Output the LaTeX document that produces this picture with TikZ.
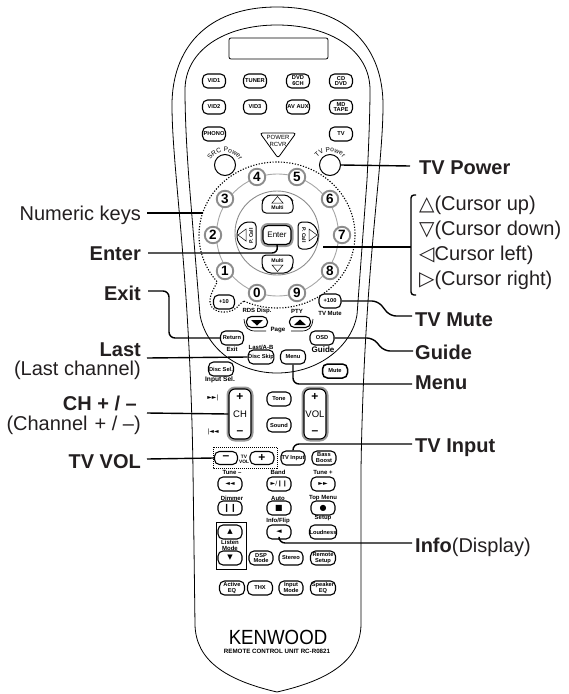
\documentclass[tikz,border=0pt]{standalone}
\usepackage{fontspec}
\usetikzlibrary{calc,decorations.text}
\setmainfont{Liberation Sans}
\newfontfamily\djv{DejaVu Sans}
\definecolor{ink}{HTML}{231F20}
\tikzset{
 btn/.style={draw,line width=1.1pt,rounded corners=5pt,minimum width=#1,minimum height=14pt,inner sep=0pt,align=center,font=\fontsize{5.7}{5.9}\selectfont\bfseries},
 btn/.default=23pt,
 tiny/.style={inner sep=0pt,align=center,font=\fontsize{6}{6.3}\selectfont\bfseries},
 keynum/.style={circle,draw=black!45,line width=1.9pt,fill=white,minimum size=16.5pt,inner sep=0pt,font=\fontsize{13.5}{13.5}\selectfont\bfseries},
 lab/.style={inner sep=0pt,text=ink,text height=14.3pt,text depth=0pt,font=\fontsize{20}{21}\selectfont},
 blab/.style={lab,font=\fontsize{20}{21}\selectfont\bfseries},
 lead/.style={line width=1.4pt,rounded corners=6pt},
 body/.style={line width=.8pt},
 sym/.style={inner sep=0pt,font=\fontsize{6}{6}\djv},
 arctext/.style={decorate,decoration={text along path,text align=center,text={|\fontsize{6.6}{6.6}\selectfont|#1}}},
}
\newcommand{\btnat}[5][23pt]{\node[btn=#1] (#2) at (#3,#4) {#5};}
\begin{document}
\begin{tikzpicture}[x=1pt,y=-1pt]
\useasboundingbox (0,0) rectangle (569,694);
% body
\draw[body] (277,7) .. controls (205,7) and (172,50) .. (172,105) .. controls (172,170) and (190,270) .. (193,470) -- (195,625) .. controls (196,660) and (225,680) .. (277,692) .. controls (330,680) and (360,660) .. (361,625) -- (361,470) .. controls (364,270) and (383,170) .. (383,105) .. controls (383,50) and (350,7) .. (277,7) -- cycle;
\draw[body] (189,180) .. controls (186,140) and (185,110) .. (185,90) .. controls (185,50) and (225,25) .. (277,25) .. controls (330,25) and (370,50) .. (370,90) .. controls (370,110) and (369,140) .. (367,180) -- (357,315) .. controls (352,345) and (320,373) .. (277,373) .. controls (235,373) and (205,345) .. (200,315) -- cycle;
\draw[line width=.8pt,rounded corners=2pt] (229,38) rectangle (328,59);
% top keys
\btnat{vida}{214}{81}{VID1}
\btnat{tuner}{255}{81}{TUNER}
\btnat{dvd}{298}{81}{DVD\\6CH}
\btnat{cd}{341}{81}{CD\\DVD}
\btnat{vidb}{214}{107}{VID2}
\btnat{vidc}{255}{107}{VID3}
\btnat{av}{298}{107}{AV AUX}
\btnat{md}{341}{107}{MD\\TAPE}
\btnat{phono}{214}{134}{PHONO}
\btnat{tv}{341}{134}{TV}
\draw[line width=.8pt,rounded corners=2.5pt] (260,133) -- (296,133) -- (278,158) -- cycle;
\node[inner sep=0pt,align=center,font=\fontsize{6}{6.5}\selectfont] (rcvr) at (278,141) {POWER\\RCVR};
\node[circle,draw,line width=1pt,minimum size=21pt,fill=white] (srcp) at (225,165) {};
\node[circle,draw,line width=1pt,minimum size=21pt,fill=white] (tvp) at (330,165) {};
\path[arctext={SRC Power}] (208,170) .. controls (208,146) and (242,146) .. (242,170);
\path[arctext={TV Power}] (313,170) .. controls (313,146) and (347,146) .. (347,170);
% dial
\draw[black!35,line width=.9pt] (277.5,235) circle (61);
\draw[black!45,line width=.9pt] (277,233) circle (42);
\draw[line width=1.1pt,dash pattern=on 1.2pt off 1.6pt]
 plot[smooth,domain=115:-220,samples=70] ({277+78*cos(\x)},{235+73*sin(\x)})
 .. controls (213,290) and (209,297) .. (210,303) .. controls (212,314) and (232,316) .. (240,304) -- (244,301);
\foreach \n/\x/\y/\d in {kf/257/177/4,kg/297/177/5,ke/225/199/3,kh/330/199/6,kc/213/235/2,ki/342/235/7,kb/225/271/1,kj/330/271/8,ka/257/293/0,kk/297/293/9}
 \node[keynum] (\n) at (\x,\y) {\d};
% cursor pads
\draw[line width=1pt,rounded corners=4pt,fill=white] (262,213) -- (262,201) -- (267,195) -- (288,195) -- (293,201) -- (293,213) -- cycle;
\draw[line width=.5pt] (277.5,196.5) -- (283,203) -- (272,203) -- cycle;
\node[tiny,font=\fontsize{5.2}{5.5}\selectfont\bfseries] (mu) at (277.5,207.5) {Multi};
\draw[line width=1pt,rounded corners=4pt,fill=white] (262,255) -- (262,267) -- (267,273) -- (288,273) -- (293,267) -- (293,255) -- cycle;
\draw[line width=.5pt] (277.5,271.5) -- (283,265) -- (272,265) -- cycle;
\node[tiny,font=\fontsize{5.2}{5.5}\selectfont\bfseries] (md2) at (277.5,260.5) {Multi};
\draw[line width=1pt,rounded corners=4pt,fill=white] (256,222) -- (244,222) -- (237,230) -- (237,241) -- (244,249) -- (256,249) -- cycle;
\draw[line width=.5pt] (238,235) -- (246,229) -- (246,241) -- cycle;
\node[tiny,rotate=90,font=\fontsize{5.2}{5.5}\selectfont\bfseries] (pl) at (251,236) {P. Call};
\draw[line width=1pt,rounded corners=4pt,fill=white] (298,222) -- (311,222) -- (318,230) -- (318,241) -- (311,249) -- (298,249) -- cycle;
\draw[line width=.5pt] (317,235) -- (309,229) -- (309,241) -- cycle;
\node[tiny,rotate=-90,font=\fontsize{5.2}{5.5}\selectfont\bfseries] (pr) at (304,235) {P. Call};
\node[draw=black!40,line width=3pt,rounded corners=6pt,minimum width=30pt,minimum height=21pt,inner sep=0pt] (enterh) at (277,235) {};
\node[draw,line width=1.1pt,rounded corners=5pt,minimum width=28pt,minimum height=19pt,inner sep=0pt,fill=white,font=\fontsize{8}{8}\selectfont] (enter) at (277,235) {Enter};
\btnat[21pt]{pten}{224}{302}{+10}
\btnat[22pt]{phun}{330}{301}{+100}
\node[tiny] (rds) at (257,311) {RDS Disp.};
\node[tiny] (pty) at (297,311) {PTY};
\node[tiny] (tvm) at (330,313) {TV Mute};
% page
\node[btn=21pt,minimum height=11pt,rounded corners=5pt] (pgd) at (257,322) {};
\node[btn=21pt,minimum height=11pt,rounded corners=5pt] (pgu) at (300,322) {};
\fill (251,320) -- (263,320) -- (257,325.5) -- cycle;
\fill (294,325) -- (306,325) -- (300,319.5) -- cycle;
\draw[line width=.7pt] (244,319) .. controls (245,328) and (248,331) .. (256,331) -- (266,331);
\draw[line width=.7pt] (313,319) .. controls (312,328) and (309,331) .. (301,331) -- (291,331);
\node[tiny,font=\fontsize{6.2}{6.5}\selectfont\bfseries] (page) at (278,330) {Page};
\btnat{ret}{232}{338}{Return}
\node[tiny] (exit) at (232,349) {Exit};
\btnat[24pt]{osd}{322}{338}{OSD}
\node[tiny,font=\fontsize{8}{8}\selectfont\bfseries] (guide) at (323,350) {Guide};
\node[tiny] (lab) at (261,347) {Last/A-B};
\btnat[25pt]{disc}{261}{357}{Disc Skip}
\btnat[25pt]{menu}{293}{357}{Menu}
\node[btn=25pt,line width=1.5pt] (mute) at (335,371) {Mute};
\btnat[25pt]{dsel}{221}{369}{Disc Sel.}
\node[tiny,font=\fontsize{6.6}{6.6}\selectfont\bfseries] (isel) at (220,380) {Input Sel.};
\node[sym] (nx) at (213,398) {►►|};
\node[sym] (pv) at (213,432) {|◄◄};
\foreach \n/\x/\t in {ch/240/CH,vol/315/VOL} {
 \node[draw=black!40,line width=3pt,rounded corners=7pt,minimum width=24pt,minimum height=52pt,inner sep=0pt] at (\x,414) {};
 \node[draw,line width=1.1pt,rounded corners=6pt,minimum width=22pt,minimum height=50pt,inner sep=0pt,fill=white,font=\fontsize{9.5}{9.5}\selectfont] (\n) at (\x,414) {\t};
 \node[inner sep=0pt,font=\fontsize{12}{12}\selectfont\bfseries] at (\x,397) {+};
 \node[inner sep=0pt,font=\fontsize{12}{12}\selectfont\bfseries] at (\x,433) {–};
}
\btnat[24pt]{tone}{279}{399}{Tone}
\btnat[24pt]{sound}{279}{425}{Sound}
\draw[line width=.6pt,dash pattern=on 1pt off 1pt] (213,447) rectangle (277,468);
\node[btn=23pt,minimum height=13pt,font=\fontsize{12}{12}\selectfont\bfseries] (tvm2) at (226,458) {–};
\node[btn=24pt,minimum height=13pt,font=\fontsize{12}{12}\selectfont\bfseries] (tvp2) at (262,458) {+};
\node[tiny,font=\fontsize{4.8}{5.2}\selectfont\bfseries] (tvvol) at (244,459) {TV\\VOL};
\btnat[24pt]{tvin}{293}{458}{TV Input}
\btnat[24pt]{bass}{324}{458}{Bass\\Boost}
% transport rows
\node[tiny] (tm) at (232,472) {Tune –};
\node[tiny] (bd) at (278,472) {Band};
\node[tiny] (tp) at (323,472) {Tune +};
\node[btn=24pt,font=\fontsize{6}{6}\djv] (rw) at (230,484) {◄◄};
\node[btn=24pt,font=\fontsize{6}{6}\djv] (pp) at (279,484) {►/❙❙};
\node[btn=24pt,font=\fontsize{6}{6}\djv] (ff) at (323,484) {►►};
\node[tiny] (dm) at (232,498) {Dimmer};
\node[tiny] (au) at (278,498) {Auto};
\node[tiny] (tpm) at (323,498) {Top Menu};
\foreach \n/\x/\g in {ps/230/❙❙,st/279/■,rc/323/●} \node[btn=24pt,font=\fontsize{8}{8}\djv] (\n) at (\x,508) {\g};
\node[tiny] (inf) at (278,521) {Info/Flip};
\node[tiny] (sup) at (323,518) {Setup};
\node[btn=24pt,font=\fontsize{7}{7}\djv] (bk) at (279,532) {◄};
\btnat[24pt]{loud}{323}{532}{Loudness}
\draw[line width=.6pt] (216,522) rectangle (246,569);
\node[btn=24pt,font=\fontsize{7}{7}\djv] (lu) at (230,532) {▲};
\node[btn=24pt,font=\fontsize{7}{7}\djv] (ld) at (230,558) {▼};
\node[tiny] (lm) at (230,545) {Listen\\Mode};
\btnat[24pt]{dsp}{261}{558}{DSP\\Mode}
\btnat[24pt]{ster}{291}{558}{Stereo}
\btnat[25pt]{rem}{323}{558}{Remote\\Setup}
\btnat[25pt]{act}{232}{588}{Active\\EQ}
\btnat[25pt]{thx}{260}{588}{THX}
\btnat[24pt]{inpm}{291}{588}{Input\\Mode}
\btnat[25pt]{spk}{323}{588}{Speaker\\EQ}
\node[inner sep=0pt,xscale=.91,font=\fontsize{20.5}{20.5}\selectfont] (ken) at (278,637) {KENWOOD};
\node[inner sep=0pt,font=\fontsize{6.2}{6.4}\selectfont\bfseries] (unit) at (277,651) {REMOTE CONTROL UNIT RC-R0821};
% labels
\node[lab,anchor=east] (lnum) at (141,213) {Numeric keys};
\node[blab,anchor=east] (lent) at (141,253) {Enter};
\node[blab,anchor=east] (lexit) at (141,293) {Exit};
\node[blab,anchor=east] (llast) at (141,349) {Last};
\node[lab,anchor=east] (llastb) at (141,368) {(Last channel)};
\node[blab,anchor=east] (lch) at (137,403) {CH + / –};
\node[lab,anchor=east] (lchb) at (141,423) {(Channel\kern7pt + / –)};
\node[blab,anchor=east] (ltv) at (141,461) {TV VOL};
\node[blab,anchor=west] (rtvp) at (419,167) {TV Power};
\node[lab,anchor=west] (r1) at (419,203) {{\djv\fontsize{20}{20}\selectfont△}(Cursor up)};
\node[lab,anchor=west] (r2) at (419,228) {{\djv\fontsize{20}{20}\selectfont▽}(Cursor down)};
\node[lab,anchor=west] (r3) at (419,253) {{\djv\fontsize{20}{20}\selectfont◁}Cursor left)};
\node[lab,anchor=west] (r4) at (419,278) {{\djv\fontsize{20}{20}\selectfont▷}(Cursor right)};
\node[blab,anchor=west] (rmute) at (415,319) {TV Mute};
\node[blab,anchor=west] (rguide) at (415,352) {Guide};
\node[blab,anchor=west] (rmenu) at (415,382) {Menu};
\node[blab,anchor=west] (rinp) at (415,445) {TV Input};
\node[lab,anchor=west] (rinfo) at (415,545) {\textbf{Info}(Display)};
% connectors
\coordinate (dl) at (203,213);
\coordinate (cu) at (323,247);
\coordinate (brk) at (411,247);
\draw[lead] ($(lnum.east)+(6,0)$) -- (dl);
\draw[lead] ($(lent.east)+(7,0)$) -- (278,253) -- (enter.south);
\draw[lead] ($(lexit.east)+(7,-2)$) -- (169,291) -- (169,338) -- (ret.west);
\draw[lead] ($(llast.east)+(6,9)$) -- (disc.west);
\draw[lead] ($(lchb.east)+(6,-10)$) -- (ch.west);
\draw[lead] ($(ltv.east)+(6,-2)$) -- (tvm2.west);
\draw[lead] (tvp.east) -- ($(rtvp.west)+(-9,-1)$);
\draw[lead] (cu) -- (brk);
\draw[line width=1.4pt,rounded corners=3pt] (416,195) -- (411,195) -- (411,295) -- (416,295);
\draw[lead] (phun.east) -- (378,301) -- (390,316) -- ($(rmute.west)+(-3,-3)$);
\draw[lead] (osd.east) -- (373,338) -- (384,351) -- ($(rguide.west)+(-2,-1)$);
\draw[lead] (menu.south) -- (293,384) -- ($(rmenu.west)+(-3,2)$);
\draw[lead] (tvin.north) -- (293,444) -- ($(rinp.west)+(-3,-1)$);
\draw[lead] (bk.south) -- (279,543) -- ($(rinfo.west)+(-3,-2)$);
\end{tikzpicture}
\end{document}
